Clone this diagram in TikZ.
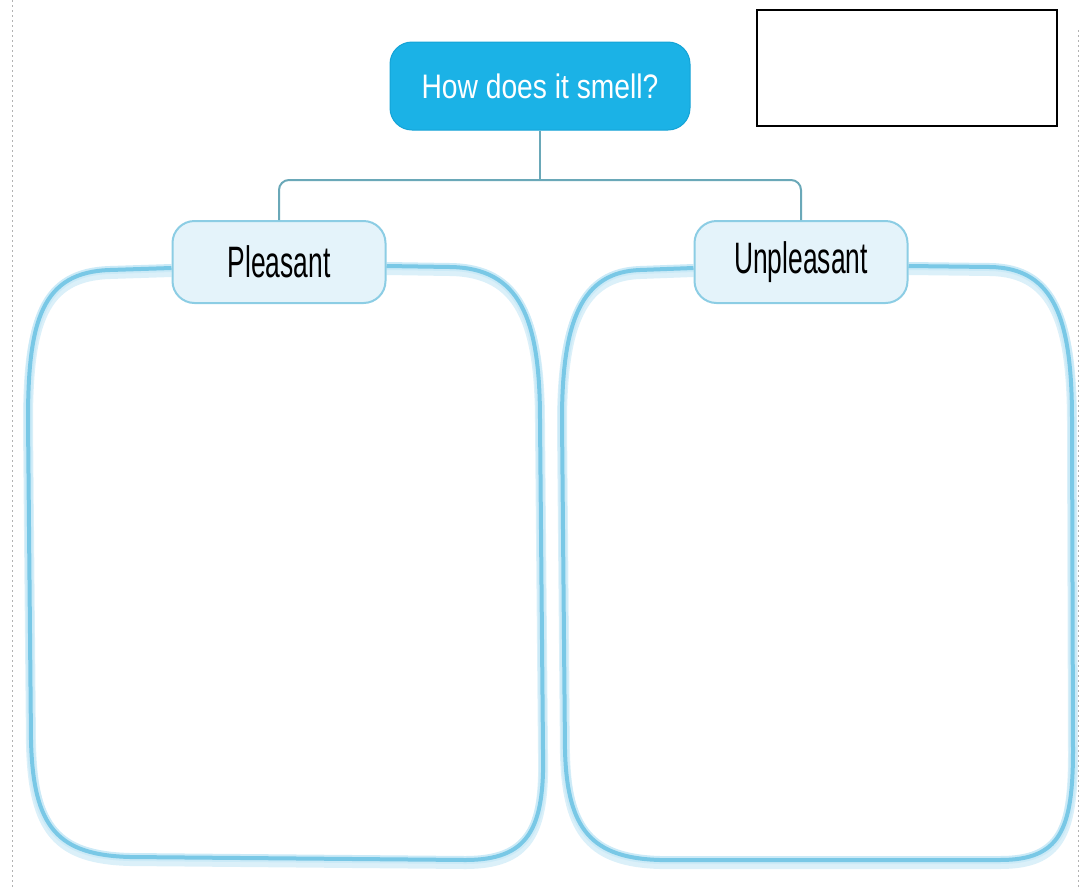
\documentclass[tikz,border=0pt]{standalone}
\usetikzlibrary{backgrounds}
\usepackage{fontspec}
\setmainfont{Liberation Sans}
\newfontfamily\titlefont[FakeStretch=0.83]{Liberation Sans}
\newfontfamily\labelfont[FakeStretch=0.6]{Liberation Sans}
\definecolor{titlecyan}{HTML}{1BB2E6}
\definecolor{titleedge}{HTML}{14A3D6}
\definecolor{lblfill}{HTML}{E4F3FA}
\definecolor{lbledge}{HTML}{8CCDE4}
\definecolor{linkc}{HTML}{6AA8B8}
\definecolor{blobc}{HTML}{79C8E6}
\definecolor{glowc}{HTML}{CBEAF7}
\tikzset{
  titlebox/.style={rounded corners=22pt, fill=titlecyan, draw=titleedge, line width=1pt,
    minimum width=300pt, minimum height=88pt, text=white, inner sep=0pt,
    font=\titlefont\fontsize{34}{40}\selectfont},
  lblbox/.style={rounded corners=22pt, fill=lblfill, draw=lbledge, line width=2pt,
    minimum width=213pt, minimum height=82pt, text=black, inner sep=0pt,
    font=\labelfont\fontsize{44}{50}\selectfont},
  blankbox/.style={draw=black, line width=2pt, minimum width=300pt, minimum height=116pt, inner sep=0pt},
  link/.style={draw=linkc, line width=2pt, rounded corners=10pt},
  blob/.style={draw=blobc, line width=4pt, line join=round,
    preaction={draw=glowc!70, line width=10pt, transform canvas={yshift=-4pt}},
    preaction={draw=glowc, line width=8pt}},
  guide/.style={draw=gray!60, dash pattern=on 2pt off 3pt, line width=1pt}
}
\begin{document}
\begin{tikzpicture}[x=1pt,y=-1pt]
\useasboundingbox (0,0) rectangle (1088,887);
\draw[guide] (12,0) -- (12,887);
\draw[guide] (1078,30) -- (1078,887);
\node[titlebox] (title) at (540,86) {How does it smell?};
\node[blankbox] (blank) at (907,68) {};
\node[lblbox] (pleasant) at (279,262) {Pleasant};
\node[lblbox] (unpleasant) at (801,262) {Unpleasant};
\begin{scope}[on background layer]
\draw[blob] ([yshift=-6pt]pleasant.west) -- (110,270) .. controls (42,272) and (28,320) .. (28,420)
  -- (31,740) .. controls (33,828) and (58,855) .. (130,857)
  -- (465,860) .. controls (528,860) and (545,830) .. (543,750)
  -- (540,420) .. controls (540,318) and (520,268) .. (450,267) -- ([yshift=-4pt]pleasant.east);
\draw[blob] ([yshift=-6pt]unpleasant.west) -- (640,270) .. controls (582,272) and (562,320) .. (562,420)
  -- (565,750) .. controls (567,830) and (592,858) .. (660,860)
  -- (1000,860) .. controls (1060,860) and (1073,830) .. (1073,750)
  -- (1072,420) .. controls (1072,320) and (1055,268) .. (990,267) -- ([yshift=-4pt]unpleasant.east);
\end{scope}
\coordinate (junction) at (540,180);
\draw[link] (title.south) -- (junction);
\draw[link] (pleasant.north) |- (junction) -| (unpleasant.north);
\end{tikzpicture}
\end{document}
